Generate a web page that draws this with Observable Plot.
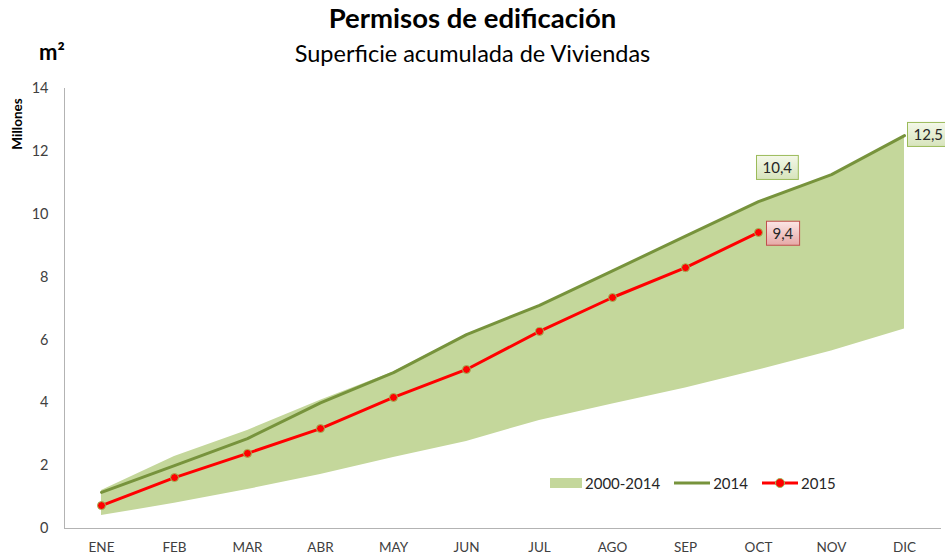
<!DOCTYPE html>
<html>
<head>
<meta charset="utf-8">
<script src="https://cdn.jsdelivr.net/npm/d3@7"></script>
<script src="https://cdn.jsdelivr.net/npm/@observablehq/plot@0.6"></script>
<style>
  html, body { margin: 0; padding: 0; background: #fff; }
  body { width: 945px; height: 559px; overflow: hidden; font-family: Lato, "Noto Sans", sans-serif; position: relative; }
  #head { position: relative; height: 75px; }
  #title { position: absolute; left: 0; width: 945px; top: 1px; text-align: center; font-weight: bold; font-size: 27.5px; color: #000; }
  #subtitle { position: absolute; left: 0; width: 945px; top: 39px; text-align: center; font-size: 23.5px; color: #000; }
  #unit { position: absolute; left: 39px; top: 38px; font-weight: bold; font-size: 22px; }
  #millones { position: absolute; left: 17px; top: 124px; transform: translate(-50%, -50%) rotate(-90deg); transform-origin: center; font-weight: bold; font-size: 13.5px; white-space: nowrap; }
  #legend { position: absolute; top: 474px; left: 550px; font-size: 15px; color: #262626; display: flex; align-items: center; }
  #legend span.item { display: inline-flex; align-items: center; margin-right: 14px; }
  #legend svg { margin-right: 3px; }
</style>
</head>
<body>
<div id="head">
  <div id="title">Permisos de edificación</div>
  <div id="subtitle">Superficie acumulada de Viviendas</div>
  <div id="unit">m²</div>
</div>
<div id="millones">Millones</div>
<div id="chart"></div>
<div id="legend">
  <span class="item"><svg width="32" height="12"><rect x="0" y="1" width="32" height="10" fill="#c4d79b"/></svg>2000-2014</span>
  <span class="item"><svg width="36" height="12"><line x1="0" x2="36" y1="6" y2="6" stroke="#77933c" stroke-width="3"/></svg>2014</span>
  <span class="item"><svg width="36" height="12"><line x1="0" x2="36" y1="6" y2="6" stroke="#ff0000" stroke-width="3"/><circle cx="18" cy="6" r="4.5" fill="#ff0000" stroke="#9bbb59" stroke-width="1"/></svg>2015</span>
</div>
<script>
const months = ["ENE","FEB","MAR","ABR","MAY","JUN","JUL","AGO","SEP","OCT","NOV","DIC"];
const rangeLow  = [0.41, 0.80, 1.24, 1.72, 2.26, 2.77, 3.44, 3.96, 4.47, 5.04, 5.65, 6.35];
const rangeHigh = [1.21, 2.29, 3.12, 4.08, 4.98, 6.17, 7.10, 8.20, 9.30, 10.40, 11.26, 12.50];
const v2014 = [1.15, 2.00, 2.86, 4.00, 4.96, 6.17, 7.10, 8.20, 9.30, 10.40, 11.26, 12.50];
const v2015 = [0.73, 1.62, 2.39, 3.18, 4.17, 5.06, 6.27, 7.35, 8.30, 9.42];
const yTicks = [0, 2, 4, 6, 8, 10, 12, 14];

const band = months.map((m, i) => ({month: m, low: rangeLow[i], high: rangeHigh[i]}));
const s2014 = months.map((m, i) => ({month: m, value: v2014[i]}));
const s2015 = v2015.map((v, i) => ({month: months[i], value: v}));
const lab2014Oct = [{month: "OCT", value: v2014[9], text: "10,4"}];
const lab2014Dic = [{month: "DIC", value: v2014[11], text: "12,5"}];
const lab2015Oct = [{month: "OCT", value: v2015[9], text: "9,4"}];

const fontFam = "Lato, 'Noto Sans', sans-serif";
const labelOpts = {x: "month", y: "value", text: "text", textAnchor: "start", fontSize: 15, fill: "#262626"};
const chart = Plot.plot({
  width: 945,
  height: 484,
  marginTop: 13,
  marginBottom: 31,
  marginLeft: 64,
  marginRight: 5,
  style: {fontFamily: fontFam, fontSize: "14px", color: "#404040", background: "transparent", overflow: "visible"},
  x: {type: "point", domain: months, padding: 0.5},
  y: {domain: [0, 14]},
  marks: [
    Plot.areaY(band, {x: "month", y1: "low", y2: "high", fill: "#c4d79b", fillOpacity: 1}),
    Plot.line(s2014, {x: "month", y: "value", stroke: "#77933c", strokeWidth: 3}),
    Plot.line(s2015, {x: "month", y: "value", stroke: "#ff0000", strokeWidth: 3}),
    Plot.dot(s2015, {x: "month", y: "value", r: 4, fill: "#ff0000", stroke: "#9bbb59", strokeWidth: 1}),
    Plot.frame({anchor: "left", stroke: "#b3b3b3"}),
    Plot.frame({anchor: "bottom", stroke: "#b3b3b3"}),
    Plot.axisY({ticks: yTicks, tickSize: 0, tickPadding: 16, fontSize: 14.5, label: null, tickFormat: d => d}),
    Plot.axisX({tickSize: 0, tickPadding: 14, fontSize: 13.5, label: null}),
    Plot.text(lab2014Oct, {...labelOpts, dx: 4, dy: -33, className: "boxgreen"}),
    Plot.text(lab2014Dic, {...labelOpts, dx: 9, dy: 0, className: "boxgreen"}),
    Plot.text(lab2015Oct, {...labelOpts, dx: 14, dy: 2, className: "boxred"})
  ]
});
document.getElementById("chart").appendChild(chart);

const defs = `<defs>
<linearGradient id="gGreen" x1="0" y1="0" x2="0" y2="1"><stop offset="0" stop-color="#f4f8e9"/><stop offset="1" stop-color="#d7e4bc"/></linearGradient>
<linearGradient id="gRed" x1="0" y1="0" x2="0" y2="1"><stop offset="0" stop-color="#fbe6e5"/><stop offset="1" stop-color="#e6a9a7"/></linearGradient>
</defs>`;
chart.insertAdjacentHTML("afterbegin", defs);
function boxes(cls, fill, stroke) {
  chart.querySelectorAll("." + cls + " text").forEach(t => {
    const bb = t.getBBox();
    const r = document.createElementNS("http://www.w3.org/2000/svg", "rect");
    r.setAttribute("x", bb.x - 6);
    r.setAttribute("y", bb.y - 3);
    r.setAttribute("width", bb.width + 12);
    r.setAttribute("height", bb.height + 6);
    r.setAttribute("fill", fill);
    r.setAttribute("stroke", stroke);
    r.setAttribute("stroke-width", "1");
    const tr = t.getAttribute("transform");
    if (tr) r.setAttribute("transform", tr);
    t.parentNode.insertBefore(r, t);
  });
}
boxes("boxgreen", "url(#gGreen)", "#9bbb59");
boxes("boxred", "url(#gRed)", "#c0504d");
</script>
</body>
</html>
